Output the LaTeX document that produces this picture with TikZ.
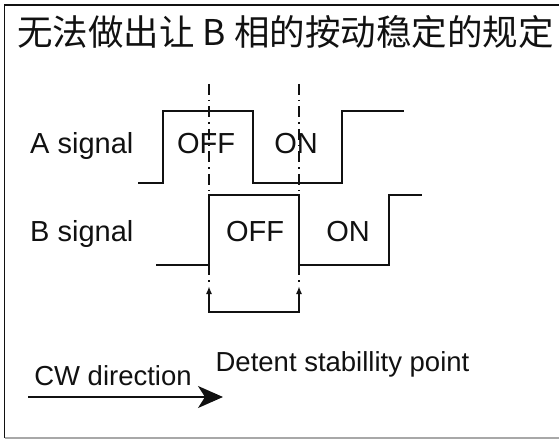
\documentclass[tikz,border=0pt]{standalone}
\usepackage{fontspec}
\setmainfont{Liberation Sans}
\newfontfamily\cjkfont{Noto Sans CJK SC}
\usetikzlibrary{arrows.meta,positioning}
\definecolor{ink}{HTML}{111111}
\definecolor{rulegray}{HTML}{A8A8A8}
\tikzset{
  >=Latex,
  every node/.style={font=\fontsize{29bp}{32bp}\selectfont,text=ink,inner sep=0pt},
  headline/.style={font=\cjkfont\fontsize{35.5bp}{38bp}\selectfont},
  smalltext/.style={font=\fontsize{27.5bp}{30bp}\selectfont},
  wave/.style={line width=1.7bp,draw=ink,line join=miter},
  marker/.style={line width=1.3bp,draw=ink,dash pattern=on 11bp off 5bp on 1.5bp off 5bp},
  bracket/.style={line width=1.7bp,draw=ink,{Latex[length=8bp,width=6bp]}-{Latex[length=8bp,width=6bp]}},
  dirarrow/.style={line width=1.7bp,draw=ink,-{Stealth[length=25bp,width=22bp,inset=7bp]}}
}

\begin{document}
\begin{tikzpicture}[x=1bp,y=-1bp]
  \useasboundingbox (0,0) rectangle (559,439);
  % frame
  \draw[ink,line width=1.6bp] (559,5) -- (4.5,5) -- (4.5,438);
  \draw[rulegray,line width=1.5bp] (4.5,438) -- (559,438);

  \node[headline] (title) at (285.5,32) {无法做出让 B 相的按动稳定的规定};

  % signal names
  \node[anchor=base west] (asig) at (30,154) {A signal};
  \node[anchor=base west] (bsig) at (30,242) {B signal};

  % wave forms
  \draw[wave] (138,183) -- (163,183) -- (163,111) -- (253,111) -- (253,183)
    -- (342,183) -- (342,111) -- (404,111);
  \draw[wave] (156,265) -- (209,265) -- (209,195) -- (299,195) -- (299,265)
    -- (389,265) -- (389,195) -- (422,195);

  \node[anchor=base] (aoff) at (206,154) {OFF};
  \node[anchor=base] (aon) at (296,154) {ON};
  \node[anchor=base] (boff) at (255,242) {OFF};
  \node[anchor=base] (bon) at (348,242) {ON};

  % detent points
  \coordinate (topl) at (209,84);
  \coordinate (topr) at (299,84);
  \coordinate (tipl) at (209,286);
  \coordinate (tipr) at (299,286);
  \draw[marker] (topl) -- (tipl);
  \draw[marker] (topr) -- (tipr);
  \draw[bracket] (tipl) -- (209,312) -- (299,312) -- (tipr);

  \node[smalltext,anchor=base] (detent) at (342.5,371) {Detent stabillity point};

  % direction
  \node[smalltext,anchor=base] (cw) at (113,385) {CW direction};
  \coordinate (cwstart) at (28,397);
  \coordinate (cwend) at (223,397);
  \draw[dirarrow] (cwstart) -- (cwend);
\end{tikzpicture}
\end{document}
